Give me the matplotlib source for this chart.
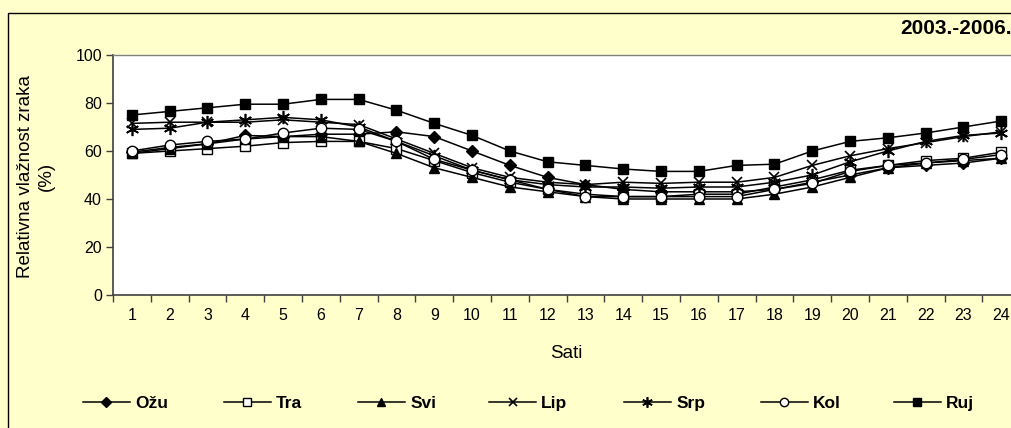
import matplotlib
matplotlib.use("Agg")
import matplotlib.pyplot as plt
from matplotlib.patches import Rectangle

plt.rcParams['font.family'] = ['Liberation Sans', 'DejaVu Sans']

hours = list(range(1, 25))
hour_labels = [str(h) for h in hours]

ozu = [59.5, 61.5, 63, 66.5, 66, 67, 67, 68, 66, 60, 54, 49, 46, 44, 43, 43, 43, 44, 47, 50, 53, 54, 55, 57]
tra = [59, 60, 61, 62, 63.5, 64, 64, 61, 56, 51, 47, 44, 42, 41, 41, 42, 42, 45, 48, 52, 54, 56, 57, 59.5]
svi = [59, 61, 63, 65, 66, 66, 64, 59, 53, 49, 45, 43, 41, 40, 40, 40, 40, 42, 45, 49, 53, 55, 56, 57]
lip = [71.5, 72, 72, 72, 73, 72, 71, 65, 59, 53, 49, 47, 46, 47, 46.5, 47, 47, 49, 54, 58, 61, 63.5, 66, 68]
srp = [69, 69.5, 72, 73, 74, 73, 70, 64, 58, 52, 48, 46, 45, 45, 44.5, 45, 45, 47, 50, 55.5, 60, 64, 66.5, 67.5]
kol = [60, 62.5, 64, 65, 67.5, 69.5, 69, 64, 56.5, 52, 48, 44, 41, 41, 41, 41, 41, 44, 46.5, 51.5, 54, 55, 56.5, 58.5]
ruj = [75, 76.5, 78, 79.5, 79.5, 81.5, 81.5, 77, 71.5, 66.5, 60, 55.5, 54, 52.5, 51.5, 51.5, 54, 54.5, 60, 64, 65.5, 67.5, 70, 72.5]

series_names = ['Ožu', 'Tra', 'Svi', 'Lip', 'Srp', 'Kol', 'Ruj']
series_vals = [ozu, tra, svi, lip, srp, kol, ruj]
styles = [
    dict(marker='D', mfc='black', ms=6.5),
    dict(marker='s', mfc='white', ms=6.5),
    dict(marker='^', mfc='black', ms=7.5),
    dict(marker='x', mfc='black', ms=7.5, mew=1.2),
    dict(marker=(6, 2, 0), mfc='black', ms=9.5, mew=1.2),
    dict(marker='o', mfc='white', ms=7.5),
    dict(marker='s', mfc='black', ms=7),
]

W, H = 1012, 428
fig = plt.figure(figsize=(W / 100, H / 100), dpi=100)
fig.patch.set_facecolor('#FFFFCC')

# figure border (left/top visible)
fig.patches.append(Rectangle((8 / W, -0.2), 1.5, 1.2 - 13 / H, transform=fig.transFigure,
                             fill=False, edgecolor='black', lw=1.0, clip_on=False))

ax_left = 113 / W
ax_bottom = (H - 295) / H
ax_w = 24 * 37.8 / W
ax_h = 240 / H
ax = fig.add_axes([ax_left, ax_bottom, ax_w, ax_h])
ax.set_facecolor('white')

handles = []
for name, vals, st in zip(series_names, series_vals, styles):
    ln, = ax.plot(hours, vals, color='black', lw=1.1, mec='black', label=name,
                  marker=st['marker'], mfc=st['mfc'], ms=st['ms'], mew=st.get('mew', 1.0))
    handles.append(ln)

ax.set_xlim(0.5, 24.5)
ax.set_ylim(0, 100)
ax.set_yticks([0, 20, 40, 60, 80, 100])
ax.set_xticks(hours)
ax.set_xticklabels(hour_labels)
ax.set_xticks([h + 0.5 for h in range(0, 25)], minor=True)
ax.tick_params(axis='x', which='major', length=0, pad=9, labelsize=11.5)
ax.tick_params(axis='x', which='minor', length=5, width=1, color='#404040', direction='out')
ax.tick_params(axis='y', length=5, width=1, color='#404040', direction='out', labelsize=11.5, pad=3)

for s in ['left', 'bottom']:
    ax.spines[s].set_color('#404040')
    ax.spines[s].set_linewidth(1.2)
for s in ['top', 'right']:
    ax.spines[s].set_color('#808080')
    ax.spines[s].set_linewidth(1.0)

fig.text(566 / W, 1 - 354 / H, 'Sati', ha='center', va='center', fontsize=13.5)
fig.text(36 / W, 1 - 176 / H, 'Relativna vlažnost zraka\n(%)', ha='center', va='center',
         rotation=90, fontsize=13.5, linespacing=1.25)
fig.text(1012 / W, 1 - 29 / H, '2003.-2006.', ha='right', va='center', fontsize=15,
         fontweight='bold')

# legend: one entry per evenly spaced slot, as in the original
leg_x = [83, 224, 358, 489, 624, 761, 894]
fs = 12.5
for h, name, x in zip(handles, series_names, leg_x):
    lg = fig.legend([h], [name], loc='center left', bbox_to_anchor=(x / W, 25 / H),
                    frameon=False, handlelength=47 / (fs * 100 / 72), handletextpad=0.3,
                    borderpad=0, borderaxespad=0, markerscale=0.8,
                    prop={'weight': 'bold', 'size': fs})

fig.savefig('out.png', dpi=100, facecolor=fig.get_facecolor())
